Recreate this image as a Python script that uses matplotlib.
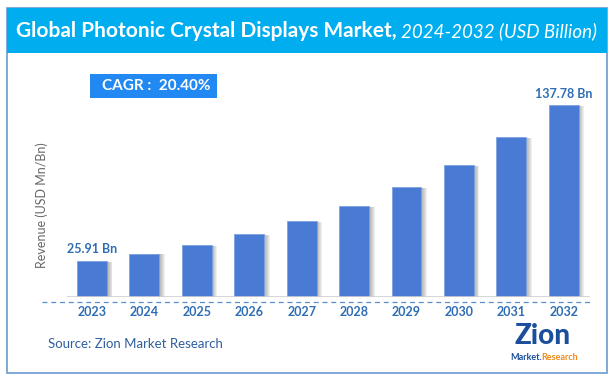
import matplotlib
matplotlib.use("Agg")
import matplotlib.pyplot as plt
from matplotlib.patches import Rectangle
from matplotlib.lines import Line2D

# ── Datos ─────────────────────────────────────────────────────────────────
years = ["2023", "2024", "2025", "2026", "2027", "2028", "2029", "2030", "2031", "2032"]
revenue = [25.91, 31.2, 37.5, 45.2, 54.4, 65.4, 79.0, 95.0, 114.8, 137.78]
label_first = "25.91 Bn"
label_last = "137.78 Bn"
cagr_text = "CAGR :  20.40%"

W, H = 614, 381
plt.rcParams['font.family'] = ['Lato', 'DejaVu Sans']

fig = plt.figure(figsize=(W / 100, H / 100), dpi=100)


def fx(px):
    return px / W


def fy(py):
    return 1 - py / H


# ── Marco y cabecera ──────────────────────────────────────────────────────
fig.patches.append(Rectangle((fx(7), fy(373)), fx(600), (373 - 8) / H,
                             transform=fig.transFigure, facecolor="white",
                             edgecolor="#6B9BD2", linewidth=1.2, zorder=-2))
fig.patches.append(Rectangle((fx(7), fy(53)), fx(600), 45 / H,
                             transform=fig.transFigure, facecolor="#00AEEF",
                             edgecolor="none", zorder=1))
t1 = fig.text(fx(16), fy(31), "Global Photonic Crystal Displays Market,",
              color="white", fontsize=15, fontweight="bold", va="center", ha="left")
fig.canvas.draw()
bb = t1.get_window_extent()
fig.text(bb.x1 / W + fx(4), fy(31), "2024-2032 (USD Billion)", color="white",
         fontsize=13.5, fontstyle="italic", va="center", ha="left")

# ── Caja CAGR ─────────────────────────────────────────────────────────────
fig.patches.append(Rectangle((fx(90), fy(98)), fx(127), 24 / H,
                             transform=fig.transFigure, facecolor="#2389F2",
                             edgecolor="none", zorder=2))
fig.text(fx(156), fy(86.5), cagr_text, color="white", fontsize=11,
         fontweight="bold", ha="center", va="center", zorder=3)

# ── Gráfico de barras ─────────────────────────────────────────────────────
top_px = 80
ax = fig.add_axes([fx(67), 84 / H, fx(523), (297 - top_px) / H])
ax.patch.set_alpha(0)
x = list(range(len(years)))
bw = 0.57

# sombra degradada a la derecha
for k in range(6):
    off = 0.015 + k * 0.018
    ax.bar([i + off for i in x], [v - 0.6 for v in revenue], width=bw,
           bottom=0, color="#555555", alpha=0.09, linewidth=0, zorder=1)
ax.bar(x, revenue, width=bw, color="#4A7BD4", edgecolor="#7FA3E0",
       linewidth=0.6, zorder=3)

ax.set_xlim(-0.477, 9.5)
ax.set_ylim(0, (297 - top_px) / 1.393)
ax.axhline(0, color="#D0D0D0", linewidth=1.2, zorder=4)
ax.axis("off")

ax.text(x[0], revenue[0] + 4, label_first, ha="center", va="bottom",
        color="#2E6DB4", fontsize=9, fontweight="bold")
ax.text(x[-1], revenue[-1] + 4, label_last, ha="center", va="bottom",
        color="#2E6DB4", fontsize=9, fontweight="bold")

for i, yr in enumerate(years):
    xd = ax.transData.transform((i, 0))[0]
    fig.text(xd / W, fy(312), yr, ha="center", va="center",
             color="#2E6DB4", fontsize=9, fontweight="bold")

# línea discontinua bajo el eje
fig.lines.append(Line2D([fx(42), fx(590)], [fy(302), fy(302)],
                        transform=fig.transFigure, color="#5B8FC9",
                        linewidth=0.9, linestyle=(0, (4, 3))))

# etiqueta eje Y
fig.text(fx(42), fy(205), "Revenue (USD Mn/Bn)", rotation=90, ha="center",
         va="center", color="#666666", fontsize=9)

# ── Fuente y logo ─────────────────────────────────────────────────────────
fig.text(fx(48), fy(344), "Source: Zion Market Research", color="#2F5F9F",
         fontsize=9.5, ha="left", va="center")

fig.text(fx(543), fy(336), "Zion", color="#1B4F9C", fontsize=20,
         fontweight="black", ha="center", va="center")
tm = fig.text(fx(510), fy(358), "Market.", color="#1B4F9C", fontsize=6.5,
              fontweight="bold", ha="left", va="center")
fig.canvas.draw()
bm = tm.get_window_extent()
fig.text(bm.x1 / W, fy(358), "Research", color="#F08A1C", fontsize=6.5,
         fontweight="bold", ha="left", va="center")

fig.savefig("out.png", dpi=100)
